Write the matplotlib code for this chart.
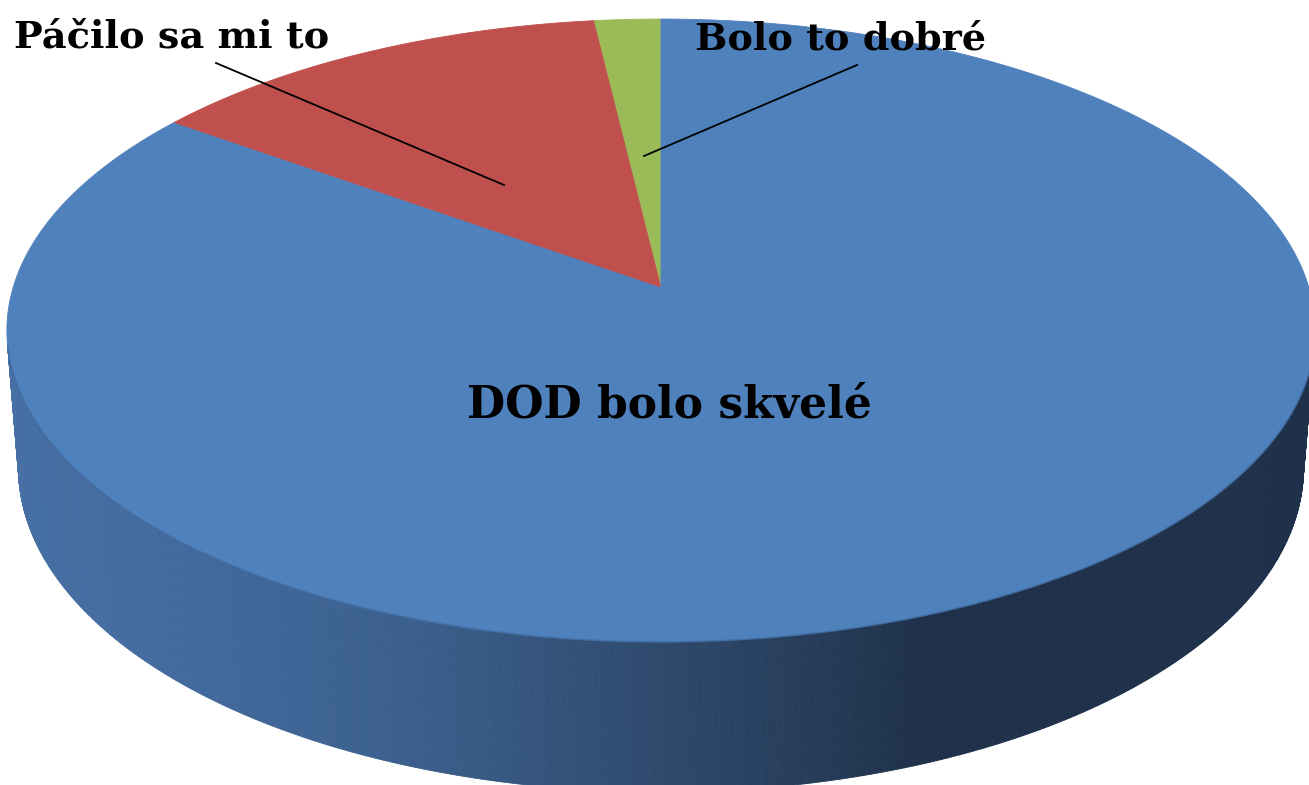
import numpy as np
import matplotlib
matplotlib.use("Agg")
import matplotlib.pyplot as plt
from matplotlib.patches import Polygon
from matplotlib.collections import PolyCollection

# ---- data ----
categories = ["DOD bolo skvelé", "Páčilo sa mi to", "Bolo to dobré"]
values = [45, 7, 1]
top_colors = ["#4F81BD", "#C0504D", "#9BBB59"]

# ---- projection / layout parameters ----
W, H = 1309, 785
CX, CY = 661, 288           # apex on screen
phi = np.arcsin(0.4717)
S, C = np.sin(phi), np.cos(phi)
D = 6.463
F = 4188.0
HGT = 0.2424

def proj(theta, z):
    x, y = np.cos(theta), np.sin(theta)
    depth = D + y * C - z * S
    v = y * S + z * C
    return CX + F * x / depth, CY - F * v / depth

grad_x = [0, 200, 400, 660, 870, 920, 1309]
grad_r = [0x47, 0x42, 0x3b, 0x2e, 0x23, 0x1f, 0x1f]
grad_g = [0x70, 0x69, 0x60, 0x4a, 0x37, 0x31, 0x31]
grad_b = [0xa5, 0x9c, 0x8e, 0x6d, 0x52, 0x4a, 0x4a]

def grad(X):
    return (np.interp(X, grad_x, grad_r) / 255,
            np.interp(X, grad_x, grad_g) / 255,
            np.interp(X, grad_x, grad_b) / 255)

fig = plt.figure(figsize=(W / 100, H / 100), dpi=100)
ax = fig.add_axes([0, 0, 1, 1])
ax.set_xlim(0, W)
ax.set_ylim(H, 0)
ax.axis("off")

# side wall (front-facing segments)
th = np.linspace(0, 2 * np.pi, 1441)
polys, cols = [], []
for t0, t1 in zip(th[:-1], th[1:]):
    tm = 0.5 * (t0 + t1)
    if np.sin(tm) < -1.0 / (D * C):
        a = proj(t0, 0); b = proj(t1, 0)
        c2 = proj(t1, -HGT); d2 = proj(t0, -HGT)
        polys.append([a, b, c2, d2])
        cols.append(grad(0.5 * (a[0] + b[0])))
pc = PolyCollection(polys, facecolors=cols, edgecolors=cols, linewidths=0.6, zorder=1)
ax.add_collection(pc)

# top wedges: green from 12 o'clock CCW, then red, then blue
order = [2, 1, 0]
total = float(sum(values))
start = np.pi / 2
for i in order:
    span = 2 * np.pi * values[i] / total
    ts = np.linspace(start, start + span, max(int(span * 200), 4))
    xs, ys = proj(ts, 0)
    pts = [(CX, CY)] + list(zip(xs, ys))
    ax.add_patch(Polygon(pts, closed=True, facecolor=top_colors[i],
                         edgecolor=top_colors[i], linewidth=0.6, zorder=2))
    start += span

# subtle front rim
tf = np.linspace(np.pi * 1.06, np.pi * 1.94, 300)
rx, ry = proj(tf, 0)
ax.plot(rx, ry, color="#3d6596", lw=1.2, alpha=0.6, zorder=3)

# labels
font = dict(family="DejaVu Serif", weight="bold", color="black")
ax.text(14, 47, categories[1], fontsize=27.5, ha="left", va="baseline", zorder=5, **font)
ax.text(695, 50, categories[2], fontsize=27.5, ha="left", va="baseline", zorder=5, **font)
ax.text(669, 417, categories[0], fontsize=31.7, ha="center", va="baseline", zorder=5, **font)

# leader lines
ax.plot([216, 504], [63, 185], color="black", lw=1.3, zorder=4)
ax.plot([857, 644], [65, 156], color="black", lw=1.3, zorder=4)

fig.savefig("out.png", dpi=100)
